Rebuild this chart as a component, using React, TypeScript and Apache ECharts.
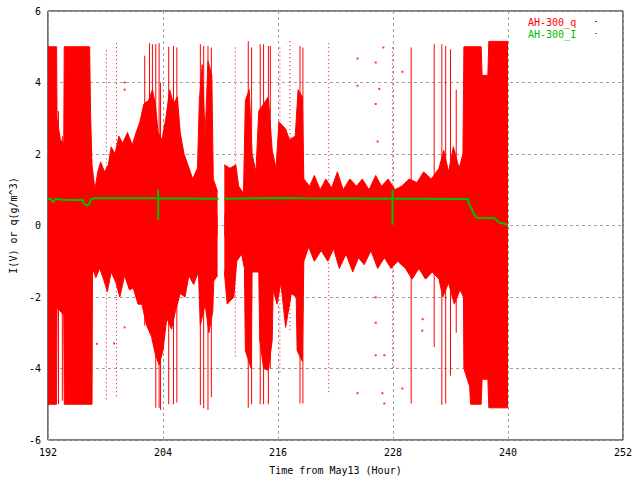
import React, { useEffect, useRef } from "react";
import * as echarts from "echarts";

// x axis ticks (hours since May 13) and y ticks
const xTicks = [192, 204, 216, 228, 240, 252];
const yTicks = [-6, -4, -2, 0, 2, 4, 6];

// AH-300_q dense cloud, upper edge: [hour, value]
const qUpper: (number | string)[][] = [
  [192.0, 5.0], [192.9, 5.0], [192.95, 3.0], [193.3, 2.4], [193.65, 2.3],
  [193.7, 5.0], [196.35, 5.0], [196.45, 3.1], [196.6, 1.7], [196.9, 1.0],
  [197.2, 1.5], [197.5, 1.78], [197.9, 1.5], [198.3, 1.7], [198.6, 2.2],
  [199.0, 2.0], [199.4, 2.5], [199.8, 2.3], [200.3, 2.6], [200.8, 2.25],
  [201.2, 2.6], [201.6, 2.9], [202.0, 3.4], [202.5, 3.5], [202.9, 3.8],
  [203.2, 3.4], [203.5, 2.6], [203.9, 2.4], [204.3, 3.0], [204.7, 3.8],
  [205.1, 3.4], [205.5, 3.6], [205.8, 2.6], [206.2, 2.0], [206.6, 1.7],
  [207.1, 1.3], [207.6, 1.6], [207.8, 3.5], [208.1, 4.5], [208.4, 2.5],
  [208.7, 4.6], [209.1, 4.2], [209.25, 1.3], [209.7, 0.95],
  [210.0, "-"],
  [210.4, 1.7], [211.0, 1.6], [211.6, 1.7], [211.9, 1.1], [212.4, 0.9],
  [212.6, 3.5], [213.0, 3.8], [213.3, 2.0], [213.7, 1.5], [214.0, 3.2],
  [214.5, 3.4], [215.0, 3.6], [215.4, 2.1], [215.8, 1.6], [216.1, 2.9],
  [216.8, 2.7], [217.2, 2.4], [217.8, 2.5], [218.1, 3.8], [218.55, 3.6],
  [218.7, 1.3], [219.3, 1.1], [219.8, 1.4], [220.4, 1.0], [221.0, 1.3],
  [221.6, 1.05], [222.2, 1.5], [222.8, 1.0], [223.5, 1.3], [224.2, 1.1],
  [224.8, 1.3], [225.5, 1.0], [226.2, 1.4], [226.8, 1.1], [227.5, 1.3],
  [228.2, 1.0], [228.9, 1.1], [229.7, 1.3], [230.5, 1.2], [231.2, 1.5],
  [232.0, 1.3], [232.8, 1.6], [233.3, 2.1], [233.8, 1.5], [234.3, 2.2],
  [234.9, 1.6], [235.3, 2.0], [235.4, 5.0], [237.2, 5.0], [237.3, 4.2],
  [237.9, 4.2], [238.0, 5.15], [240.0, 5.15],
];

// AH-300_q dense cloud, lower edge: [hour, value]
const qLower: (number | string)[][] = [
  [192.0, -5.0], [192.9, -5.0], [192.95, -2.3], [193.65, -2.5], [193.7, -5.0],
  [196.6, -5.0], [196.65, -1.2], [197.0, -1.46], [197.4, -1.2], [197.8, -1.5],
  [198.2, -1.85], [198.6, -1.3], [199.1, -1.6], [199.5, -2.0], [200.0, -1.4],
  [200.5, -1.8], [200.9, -1.75], [201.4, -2.2], [201.8, -2.2], [202.3, -2.8],
  [202.8, -3.1], [203.2, -3.6], [203.6, -3.9], [204.0, -3.5], [204.4, -2.6],
  [204.9, -2.9], [205.3, -2.4], [205.8, -1.9], [206.3, -2.0], [206.7, -1.4],
  [207.2, -1.65], [207.7, -1.3], [207.9, -2.8], [208.4, -2.2], [208.8, -3.0],
  [209.2, -2.4], [209.3, -1.55], [209.7, -1.4],
  [210.0, "-"],
  [210.4, -1.27], [210.7, -2.2], [211.4, -2.0], [211.7, -1.0], [212.2, -0.8],
  [212.5, -1.2], [212.6, -3.5], [213.2, -4.0], [213.3, -1.3], [214.0, -1.3],
  [214.1, -3.2], [214.5, -4.0], [215.0, -4.05], [215.4, -3.2], [215.5, -1.8],
  [215.9, -2.2], [216.3, -1.6], [216.8, -2.85], [217.4, -1.9], [217.9, -2.0],
  [218.0, -3.5], [218.55, -3.8], [218.7, -1.0], [219.2, -0.6], [219.8, -1.0],
  [220.5, -0.7], [221.2, -1.0], [221.8, -0.65], [222.4, -1.2], [223.1, -0.8],
  [223.8, -1.3], [224.4, -0.9], [225.0, -1.1], [225.7, -0.7], [226.4, -1.2],
  [227.1, -0.9], [227.8, -1.2], [228.5, -1.0], [229.3, -1.2], [230.0, -1.5],
  [230.7, -1.2], [231.4, -1.5], [232.1, -1.3], [232.8, -1.5], [233.2, -2.0],
  [233.8, -1.6], [234.4, -2.2], [235.0, -1.8], [235.35, -2.0], [235.4, -4.0],
  [236.0, -4.5], [236.1, -5.0], [237.2, -5.0], [237.3, -4.3], [237.9, -4.3],
  [238.0, -5.1], [240.0, -5.1],
];

// AH-300_q tall solid spikes: [hour, low, high]
const qSpikes: number[][] = [
  [193.1, -5.0, 3.2], [193.5, -4.9, 2.5], [202.1, -2.8, 4.75], [202.6, -3.0, 5.1],
  [202.9, -3.0, 5.07], [203.25, -5.1, 5.07], [203.6, -5.1, 5.1], [203.75, -5.16, 4.0],
  [204.6, -5.0, 5.0], [205.1, -5.0, 5.02], [205.45, -4.95, 4.98], [207.9, -5.02, 5.07],
  [208.25, -5.11, 5.02], [208.7, -5.16, 5.02], [209.05, -4.8, 4.98], [212.9, -5.1, 5.16],
  [213.25, -5.0, 4.98], [214.15, -5.0, 5.07], [214.5, -5.0, 5.07], [215.0, -5.0, 5.02],
  [215.2, -4.0, 5.02], [218.3, -4.98, 5.02], [218.6, -4.98, 4.98], [229.9, -4.98, 4.98],
  [232.3, -3.4, 5.07], [233.1, -5.02, 5.07], [233.5, -4.98, 5.02], [234.0, -4.2, 4.93],
  [234.6, -3.0, 3.8],
];

// AH-300_q sparse dotted columns: [hour, low, high]
const qDotted: number[][] = [
  [198.1, -4.9, 4.9], [199.15, -4.8, 5.1], [211.55, -3.7, 4.98], [216.2, -4.2, 4.98],
  [217.25, -3.0, 5.16], [221.3, -4.7, 5.1], [227.95, -4.0, 4.98],
];

// AH-300_q isolated dots: [hour, value]
const qDots: number[][] = [
  [224.3, 4.67], [226.2, 4.56], [227.0, 4.98], [224.3, -4.69], [226.9, -4.69],
  [226.2, -3.63], [226.2, 3.4], [224.3, 3.91], [226.57, 3.82], [226.4, 2.35],
  [226.2, -2.01], [226.2, -2.72], [227.1, -3.63], [227.1, -4.98], [228.98, -4.56],
  [228.98, 4.3], [231.05, -2.94], [231.1, -2.62], [200.0, 4.0], [200.0, 3.8],
  [197.1, -3.31], [198.9, -3.3], [200.0, -2.85],
];

// AH-300_I current line: [hour, value]
const iLine: (number | string)[][] = [
  [192.0, 0.75], [192.3, 0.74], [192.45, 0.67], [192.6, 0.66], [192.75, 0.73],
  [193.0, 0.74], [193.5, 0.72], [194.5, 0.71], [195.6, 0.72], [195.8, 0.6],
  [196.1, 0.56], [196.3, 0.6], [196.5, 0.74], [197.0, 0.76], [199.0, 0.76],
  [203.5, 0.76], [203.5, 1.0], [203.5, 0.16], [203.5, 0.76], [209.8, 0.75],
  [210.1, "-"], [210.4, 0.75], [216.0, 0.77], [218.5, 0.76], [227.95, 0.75],
  [227.95, 1.0], [227.95, 0.02], [227.95, 0.75], [229.0, 0.75], [235.85, 0.74],
  [235.9, 0.62], [236.2, 0.47], [236.5, 0.3], [236.75, 0.22], [238.6, 0.2],
  [239.1, 0.08], [240.0, 0.02],
];

const RED = "#ff0000";
const GREEN = "#00c000";
const FONT = "DejaVu Sans Mono";

export default function App() {
  const ref = useRef<HTMLDivElement>(null);
  useEffect(() => {
    if (!ref.current) return;
    const chart = echarts.init(ref.current, undefined, { renderer: "svg" });
    const spikeRender = (dash: number[] | null) => (params: any, api: any) => {
      const a = api.coord([api.value(0), api.value(2)]);
      const b = api.coord([api.value(0), api.value(1)]);
      return {
        type: "line",
        shape: { x1: a[0], y1: a[1], x2: b[0], y2: b[1] },
        style: { stroke: RED, lineWidth: 1, lineDash: dash || undefined },
      };
    };
    const envelope = (data: (number | string)[][], origin: number) => ({
      name: "AH-300_q",
      type: "line",
      showSymbol: false,
      connectNulls: false,
      lineStyle: { color: RED, width: 1 },
      itemStyle: { color: RED },
      areaStyle: { color: RED, opacity: 1, origin },
      data,
      z: 2,
    });
    chart.setOption({
      animation: false,
      backgroundColor: "#ffffff",
      grid: {
        left: 42, right: 17, top: 11, bottom: 37,
        show: true, borderColor: "#000", borderWidth: 1, backgroundColor: "transparent",
      },
      xAxis: {
        type: "value",
        min: xTicks[0],
        max: xTicks[xTicks.length - 1],
        interval: 12,
        name: "Time from May13 (Hour)",
        nameLocation: "middle",
        nameGap: 25,
        nameTextStyle: { color: "#000", fontFamily: FONT, fontSize: 10 },
        axisLine: { show: false },
        axisTick: { show: false },
        axisLabel: { color: "#000", fontFamily: FONT, fontSize: 10, margin: 7 },
        splitLine: { show: true, lineStyle: { color: "#a0a0a0", type: [3, 3], width: 1 } },
      },
      yAxis: {
        type: "value",
        min: yTicks[0],
        max: yTicks[yTicks.length - 1],
        interval: 2,
        name: "I(V) or q(g/m^3)",
        nameLocation: "middle",
        nameRotate: 90,
        nameGap: 24,
        nameTextStyle: { color: "#000", fontFamily: FONT, fontSize: 10 },
        axisLine: { show: false },
        axisTick: { show: false },
        axisLabel: { color: "#000", fontFamily: FONT, fontSize: 10, margin: 7 },
        splitLine: { show: true, lineStyle: { color: "#a0a0a0", type: [3, 3], width: 1 } },
      },
      series: [
        envelope(qUpper, -0.3),
        envelope(qLower, 0.3),
        {
          name: "AH-300_q",
          type: "custom",
          clip: true,
          encode: { x: 0, y: [1, 2] },
          renderItem: spikeRender(null),
          data: qSpikes,
          z: 3,
        },
        {
          name: "AH-300_q",
          type: "custom",
          clip: true,
          encode: { x: 0, y: [1, 2] },
          renderItem: spikeRender([1, 3]),
          data: qDotted,
          z: 3,
        },
        {
          name: "AH-300_q",
          type: "scatter",
          symbol: "rect",
          symbolSize: 2,
          itemStyle: { color: RED },
          data: qDots,
          z: 3,
        },
        {
          name: "AH-300_I",
          type: "line",
          showSymbol: false,
          connectNulls: false,
          lineStyle: { color: GREEN, width: 2 },
          itemStyle: { color: GREEN },
          data: iLine,
          z: 5,
        },
      ],
      graphic: [
        { type: "text", left: 528, top: 17, style: { text: "AH-300_q", fill: RED, font: `10px "${FONT}"` } },
        { type: "rect", left: 595, top: 21, shape: { width: 2, height: 1 }, style: { fill: RED } },
        { type: "text", left: 528, top: 29, style: { text: "AH-300_I", fill: GREEN, font: `10px "${FONT}"` } },
        { type: "rect", left: 595, top: 33, shape: { width: 2, height: 1 }, style: { fill: GREEN } },
      ],
    });
    return () => chart.dispose();
  }, []);
  return (
    <div
      ref={ref}
      style={{ position: "fixed", left: 0, top: 0, width: 640, height: 480, background: "#fff" }}
    />
  );
}
